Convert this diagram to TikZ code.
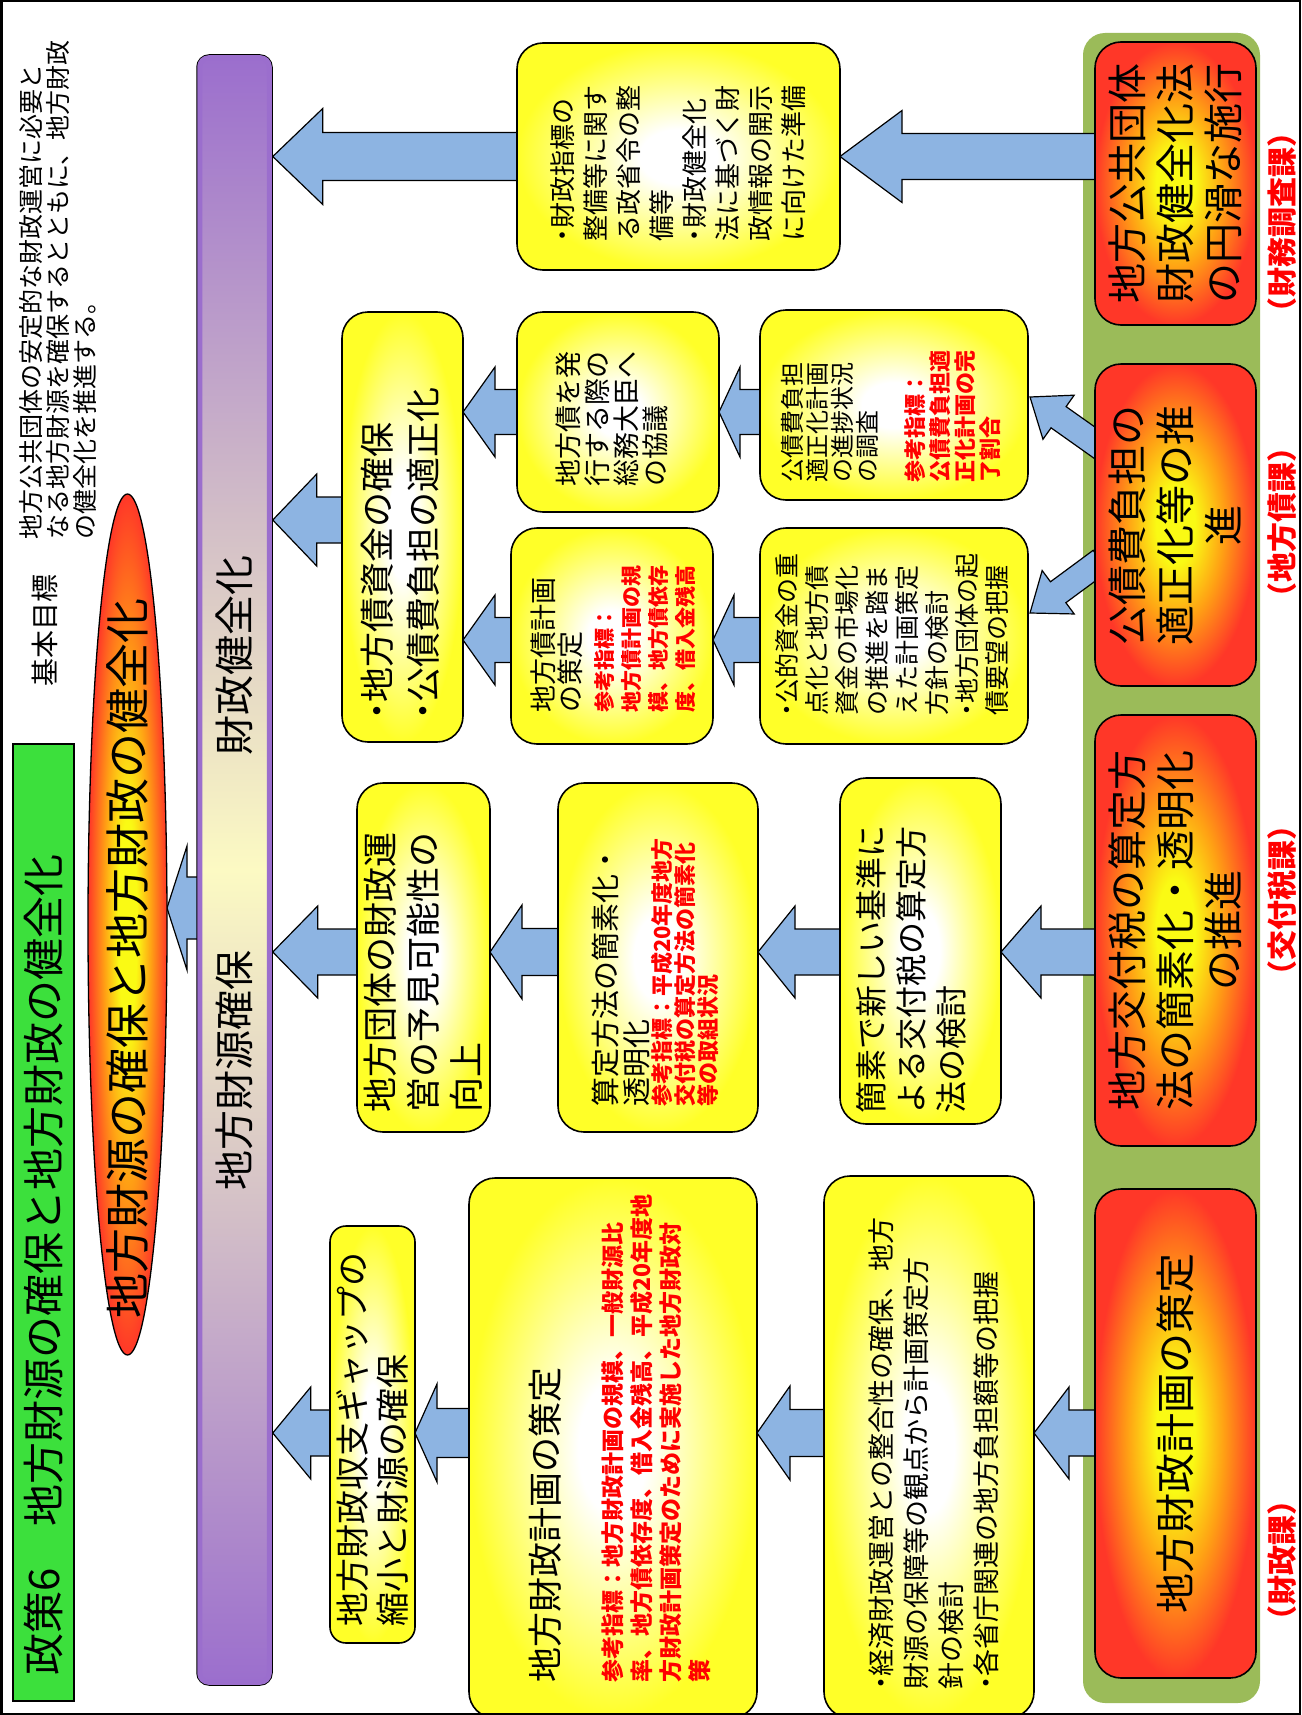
\documentclass[tikz,border=0pt]{standalone}
\usepackage{fontspec}
\setmainfont{Noto Sans CJK JP}
\usetikzlibrary{calc,shapes.geometric}
\definecolor{yelc}{RGB}{255,255,40}
\definecolor{redc}{RGB}{255,55,40}
\definecolor{orc}{RGB}{255,160,20}
\definecolor{yc2}{RGB}{250,250,20}
\definecolor{bluec}{RGB}{141,180,226}
\definecolor{greenbg}{RGB}{155,187,89}
\definecolor{titleg}{RGB}{60,224,60}
\definecolor{purp}{RGB}{155,110,205}
\definecolor{cream}{RGB}{252,250,195}
\definecolor{labred}{RGB}{255,0,0}
\pgfdeclareradialshading{yglow}{\pgfpoint{0bp}{0bp}}{color(0bp)=(white); color(6bp)=(white); color(25bp)=(yelc); color(50bp)=(yelc)}
\pgfdeclareradialshading{rglow}{\pgfpoint{0bp}{0bp}}{color(0bp)=(yc2); color(6bp)=(yc2); color(15bp)=(orc); color(25bp)=(redc); color(50bp)=(redc)}
\pgfdeclarelayer{bglayer}
\pgfdeclarelayer{arrowlayer}
\pgfsetlayers{bglayer,arrowlayer,main}
\newcommand\bul{\makebox[0.5em]{・}}
\newcommand\setfs[2]{\fontsize{#1}{#2}\selectfont}
\newcommand\blockarrow[4]{%
  \draw[barrow] let \p1=#1, \p2=#2 in (\p1) -- (\x1+#3,\y1+#4) -- (\x1+#3,\y1+#4/2) -- (\x2+4,\y1+#4/2) -- (\x2+4,\y1-#4/2) -- (\x1+#3,\y1-#4/2) -- (\x1+#3,\y1-#4) -- cycle;}
\tikzset{
  barrow/.style={fill=bluec, draw=black, line width=1.2pt, line join=miter},
  ybox/.style={draw=black, line width=1.6pt, rounded corners=26pt, shade, shading=yglow, inner sep=0pt, outer sep=0pt},
  rbox/.style={draw=black, line width=1.6pt, rounded corners=26pt, shade, shading=rglow, inner sep=0pt, outer sep=0pt},
  txt/.style={rotate=90, anchor=west, inner sep=0pt, align=left, text width=#1},
  ctxt/.style={rotate=90, anchor=center, inner sep=0pt, align=center, text width=#1},
  lab/.style={rotate=90, inner sep=0pt, text=labred, font={\setfs{30}{32}\bfseries}}
}
\begin{document}
\begin{tikzpicture}[x=1pt,y=-1pt]
\useasboundingbox (0,0) rectangle (1301,1715);

\begin{pgfonlayer}{bglayer}
\fill[white] (0,0) rectangle (1301,1715);
\node[fill=greenbg, rounded corners=22pt, minimum width=177pt, minimum height=1670pt, inner sep=0pt] (gbg) at (1171.5,868) {};
\end{pgfonlayer}

% title and goal
\node[draw=black, line width=1.5pt, fill=titleg, minimum width=61pt, minimum height=957pt, inner sep=0pt] (tbox) at (43.5,1222.5) {};
\node[rotate=90, inner sep=0pt, font={\setfs{42}{46}}] (titlet) at (44,1265) {政策6　地方財源の確保と地方財政の健全化};
\node[rotate=90, inner sep=0pt, font={\setfs{28}{30}}] (goal) at (45,630) {基本目標};
\node[txt=600pt, font={\setfs{25}{27}}] (desc) at (58,540) {地方公共団体の安定的な財政運営に必要と\\なる地方財源を確保するとともに、地方財政\\の健全化を推進する。};

% ellipse and bar
\node[ellipse, draw=black, line width=1.3pt, shade, shading=rglow, minimum width=79pt, minimum height=861pt, inner sep=0pt] (ell) at (127.5,924.5) {};
\node[rotate=90, inner sep=0pt, font={\setfs{45}{48}}] (ellt) at (127.5,958) {地方財源の確保と地方財政の健全化};
\node[draw=black, line width=1.5pt, rounded corners=12pt, top color=purp, bottom color=purp, middle color=cream, minimum width=75pt, minimum height=1630pt, inner sep=0pt] (bar) at (234.5,870) {};
\draw[purp, line width=5pt, rounded corners=9pt] ($(bar.north west)+(3.5,3.5)$) rectangle ($(bar.south east)+(-3.5,-3.5)$);
\node[rotate=90, inner sep=0pt, font={\setfs{40}{44}}] (bart1) at (234.5,655) {財政健全化};
\node[rotate=90, inner sep=0pt, font={\setfs{40}{44}}] (bart2) at (234.5,1070) {地方財源確保};

% red boxes
\node[rbox, minimum width=161pt, minimum height=283pt] (r1) at (1175.5,183.5) {};
\node[rbox, minimum width=161pt, minimum height=322pt] (r2) at (1175.5,525) {};
\node[rbox, minimum width=161pt, minimum height=431pt] (r3) at (1175.5,930.5) {};
\node[rbox, minimum width=161pt, minimum height=489pt] (r4) at (1175.5,1433.5) {};
\node[ctxt=275pt, font={\setfs{40}{48}}] (r1t) at (r1) {地方公共団体\\財政健全化法\\の円滑な施行};
\node[ctxt=310pt, font={\setfs{40}{48}}] (r2t) at (r2) {公債費負担の\\適正化等の推\\進};
\node[ctxt=420pt, font={\setfs{40}{48}}] (r3t) at (r3) {地方交付税の算定方\\法の簡素化・透明化\\の推進};
\node[ctxt=470pt, font={\setfs{40}{48}}] (r4t) at (r4) {地方財政計画の策定};

% labels
\node[lab] (lab1) at (1282,222) {（財務調査課）};
\node[lab] (lab2) at (1282,522) {（地方債課）};
\node[lab] (lab3) at (1282,900) {（交付税課）};
\node[lab] (lab4) at (1282,1560) {（財政課）};

% yellow boxes
\node[ybox, minimum width=323pt, minimum height=227pt] (y1) at (678.5,156.5) {};
\node[ybox, minimum width=268pt, minimum height=190pt] (y2a) at (894,405) {};
\node[ybox, minimum width=268pt, minimum height=216pt] (y2b) at (894,636) {};
\node[ybox, minimum width=202pt, minimum height=200pt] (y2c) at (618,412) {};
\node[ybox, minimum width=202pt, minimum height=216pt] (y2d) at (612,636) {};
\node[ybox, minimum width=121pt, minimum height=430pt] (y2e) at (402.5,527) {};
\node[ybox, minimum width=161pt, minimum height=346pt] (y3a) at (920.5,951) {};
\node[ybox, minimum width=200pt, minimum height=349pt] (y3b) at (658,957.5) {};
\node[ybox, minimum width=133pt, minimum height=349pt] (y3c) at (423.5,957.5) {};
\node[ybox, minimum width=210pt, minimum height=542pt] (y4a) at (929,1447) {};
\node[ybox, minimum width=288pt, minimum height=540pt] (y4b) at (613,1448) {};
\node[ybox, rounded corners=16pt, minimum width=85pt, minimum height=417pt] (y4c) at (372.5,1434.5) {};

% texts in yellow boxes
\node[txt=220pt, font={\setfs{26}{33}}] (t1) at (678,242) {\bul 財政指標の\\整備等に関す\\る政省令の整\\備等\\\bul 財政健全化\\法に基づく財\\政情報の開示\\に向けた準備};
\node[txt=200pt, font={\setfs{24}{25}}] (t2a) at (891,483) {公債費負担\\適正化計画\\の進捗状況\\の調査\par\vspace{22pt}{\color{labred}\bfseries\setfs{22}{25}参考指標：\\公債費負担適\\正化計画の完\\了割合\par}};
\node[txt=200pt, font={\setfs{27}{29}}] (t2c) at (612,487) {地方債を発\\行する際の\\総務大臣へ\\の協議};
\node[txt=220pt, font={\setfs{25}{30}}] (t2b) at (892,716) {\bul 公的資金の重\\点化と地方債\\資金の市場化\\の推進を踏ま\\えた計画策定\\方針の検討\\\bul 地方団体の起\\債要望の把握};
\node[txt=200pt, font={\setfs{27}{27}}] (t2d) at (613,713) {地方債計画\\の策定\par\vspace{5pt}{\color{labred}\bfseries\setfs{21}{27}参考指標：\\地方債計画の規\\模、地方債依存\\度、借入金残高\par}};
\node[txt=320pt, font={\setfs{35}{46}}] (t2e) at (400,720) {\bul 地方債資金の確保\\\bul 公債費負担の適正化};
\node[txt=320pt, font={\setfs{32}{40}}] (t3a) at (911,1114) {簡素で新しい基準に\\よる交付税の算定方\\法の検討};
\node[txt=300pt, font={\setfs{29}{31}}] (t3b) at (655,1107) {算定方法の簡素化・\\透明化\par{\color{labred}\bfseries\setfs{22}{23}参考指標：平成20年度地方\\交付税の算定方法の簡素化\\等の取組状況\par}};
\node[txt=300pt, font={\setfs{35}{43}}] (t3c) at (423,1113) {地方団体の財政運\\営の予見可能性の\\向上};
\node[txt=520pt, font={\setfs{27}{35}}] (t4a) at (934,1690) {\bul 経済財政運営との整合性の確保、地方\\財源の保障等の観点から計画策定方\\針の検討\\\bul 各省庁関連の地方負担額等の把握};
\node[txt=500pt, font={\setfs{35}{40}}] (t4b) at (620,1683) {地方財政計画の策定\par\vspace{34pt}{\color{labred}\bfseries\setfs{23}{29}参考指標：地方財政計画の規模、一般財源比\\率、地方債依存度、借入金残高、平成20年度地\\方財政計画策定のために実施した地方財政対\\策\par}};
\node[txt=400pt, font={\setfs{34}{40}}] (t4c) at (372,1627) {地方財政収支ギャップの\\縮小と財源の確保};

% arrows
\coordinate (d1tip) at (1030,397);
\coordinate (d2tip) at (1030,613);
\begin{pgfonlayer}{arrowlayer}
\blockarrow{(y1.east)}{(r1.west)}{62}{46}
\blockarrow{(bar.east |- y1.west)}{(y1.west)}{50}{48}
\blockarrow{(bar.east |- 0,520)}{(y2e.west)}{44}{46}
\blockarrow{(y2e.east |- y2c.west)}{(y2c.west)}{32}{45}
\blockarrow{(y2e.east |- 0,640)}{(y2d.west)}{32}{45}
\blockarrow{(y2c.east)}{(y2a.west)}{21}{45}
\blockarrow{(y2d.east |- 0,640)}{(y2b.west)}{21}{45}
\blockarrow{(bar.east |- 0,952)}{(y3c.west)}{45}{46}
\blockarrow{(y3c.east |- 0,952)}{(y3b.west)}{32}{47}
\blockarrow{(y3b.east |- 0,952)}{(y3a.west)}{37}{46}
\blockarrow{(y3a.east |- 0,952)}{(r3.west)}{40}{46}
\blockarrow{(bar.east |- 0,1433)}{(y4c.west)}{38}{46}
\blockarrow{(y4c.east |- 0,1433)}{(y4b.west)}{22}{49}
\blockarrow{(y4b.east |- 0,1433)}{(y4a.west)}{33}{47}
\blockarrow{(y4a.east |- 0,1433)}{(r4.west)}{35}{46}
\blockarrow{(167,908)}{(bar.west)}{20}{62}
\begin{scope}[shift={(d1tip)}, rotate=-35.3]
\draw[barrow] (0,0) -- (35,27) -- (35,13) -- (88,13) -- (88,-13) -- (35,-13) -- (35,-27) -- cycle;
\end{scope}
\begin{scope}[shift={(d2tip)}, rotate=36.4]
\draw[barrow] (0,0) -- (35,27) -- (35,13) -- (88,13) -- (88,-13) -- (35,-13) -- (35,-27) -- cycle;
\end{scope}
\end{pgfonlayer}

\draw[line width=2.5pt] (1.25,1.25) rectangle (1299.75,1713.75);
\end{tikzpicture}
\end{document}
